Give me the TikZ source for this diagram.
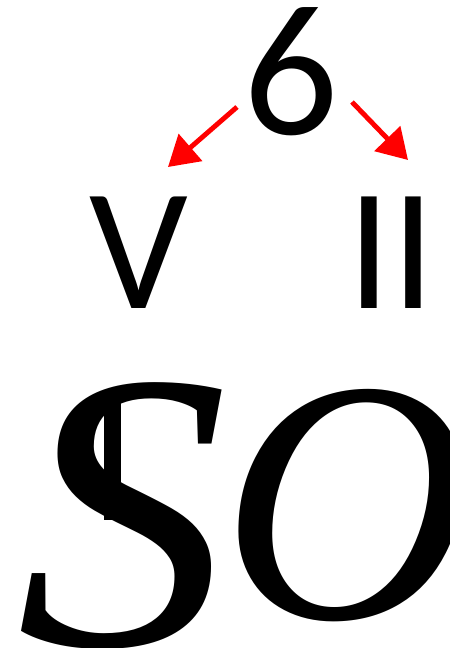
\documentclass[tikz,border=0pt]{standalone}
\usepackage{fontspec}
\setmainfont{Liberation Serif}
\newfontfamily\numfont{Carlito}
\usetikzlibrary{positioning,arrows.meta}

\begin{document}
\begin{tikzpicture}[
  x=0.02cm,y=-0.02cm,
  every node/.style={inner sep=0pt,anchor=base west},
  digit/.style={font=\numfont\fontsize{107}{107}\selectfont},
  roman/.style={font=\numfont\fontsize{99}{99}\selectfont},
  big/.style={font=\itshape\fontsize{226}{226}\selectfont},
  splitarrow/.style={red,line width=2.8pt,-{Triangle[length=17pt,width=20pt]}}
]
\useasboundingbox (0,0) rectangle (449,648);

% 6 を V と II に分ける
\node[digit] (six) at (243,135) {6};
\node[roman] (five) at (89,308) {V};
\node[roman] (two) at (347,308) {II};

\coordinate (l0) at (237,107);
\coordinate (l1) at (168,167);
\coordinate (r0) at (352,102);
\coordinate (r1) at (408,160);
\draw[splitarrow] (l0)--(l1);
\draw[splitarrow] (r0)--(r1);

% 下の SO
\node[big] (s) at (16,645) {\scalebox{1.07}[1]{S}};
\node[big,font=\itshape\fontsize{197}{197}\selectfont] (o) at (221,618) {O};
\fill (104,393) rectangle (121,520);
\end{tikzpicture}
\end{document}
